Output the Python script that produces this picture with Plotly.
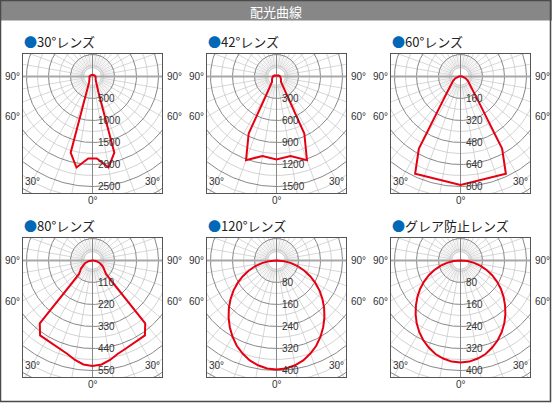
import numpy as np
import plotly.graph_objects as go

W, H = 552, 403

# Chart titles and the radial label step (cd) of each diagram
lens_names = ["30°レンズ", "42°レンズ", "60°レンズ", "80°レンズ", "120°レンズ", "グレア防止レンズ"]
scale_steps = [500, 300, 160, 110, 80, 80]

# Half profiles: angle from nadir (deg) and luminous intensity (cd); mirrored for the other side
ang_30 = [0, 3, 10, 16, 20, 25, 30, 45, 60, 75, 90, 120, 150, 180]
cd_30 = [1865, 1865, 2100, 1800, 420, 225, 155, 100, 85, 75, 68, 50, 40, 38]

ang_42 = [0, 10, 20, 26, 30, 35, 40, 60, 90, 120, 150, 180]
cd_42 = [1130, 1100, 1215, 865, 240, 130, 95, 70, 50, 30, 15, 10]

ang_60 = [0, 25, 30, 35, 40, 45, 52, 60, 70, 80, 90, 120, 180]
cd_60 = [788, 781, 605, 245, 154, 112, 83, 62, 42, 25, 12, 4, 0]

ang_80 = [0, 5, 10, 15, 20, 25, 30, 35, 40, 42, 45, 50, 55, 60, 70, 80, 90, 180]
cd_80 = [528, 522, 505, 484, 472, 463, 458, 457, 410, 175, 95, 80, 70, 60, 40, 20, 5, 0]

ang_120 = [0, 5, 10, 15, 20, 25, 30, 35, 40, 45, 50, 55, 60, 65, 70, 75, 80, 85, 90, 180]
cd_120 = [396, 394, 387, 376, 360, 342, 320, 296, 271, 245, 218, 191, 163, 135, 108, 81, 54, 27, 0, 0]

ang_glare = [0, 5, 10, 15, 20, 25, 30, 35, 40, 45, 50, 55, 60, 65, 70, 75, 80, 85, 90, 180]
cd_glare = [371, 369, 362, 352, 337, 320, 300, 278, 254, 229, 204, 179, 153, 127, 101, 76, 50, 25, 0, 0]

profiles = [(ang_30, cd_30), (ang_42, cd_42), (ang_60, cd_60),
            (ang_80, cd_80), (ang_120, cd_120), (ang_glare, cd_glare)]

# Panel geometry (pixels)
lefts = [23, 207, 391]
tops = [54, 238]
BW, BH = 139, 139
CY = 22.5          # pole offset below box top
PX = 22.0          # pixels per radial step

RED = "#e60012"
DARK = "#7a7a7a"
LIGHT = "#c6c6c6"
HUB = "#d6d6d6"
TXT = "#333333"
NUM_FONT = dict(family="Liberation Sans, Arial, sans-serif", size=10, color=TXT)
JP_FONT = "Noto Sans CJK JP, sans-serif"

fig = go.Figure()
annotations = []
layout_axes = {}


def circle_xy(radii):
    t = np.linspace(0, 2 * np.pi, 361)
    xs, ys = [], []
    for r in radii:
        xs += list(r * np.cos(t)) + [None]
        ys += list(r * np.sin(t)) + [None]
    return xs, ys


def spokes_xy(angles_deg, r0, r1):
    xs, ys = [], []
    for a in angles_deg:
        th = np.radians(a)
        xs += [r0 * np.sin(th), r1 * np.sin(th), None]
        ys += [-r0 * np.cos(th), -r1 * np.cos(th), None]
    return xs, ys


for k in range(6):
    row, col = divmod(k, 3)
    n = k + 1
    xa = "x" if n == 1 else f"x{n}"
    ya = "y" if n == 1 else f"y{n}"
    s = scale_steps[k]
    u = s / PX
    left, top = lefts[col], tops[row]
    cx, cy = left + BW / 2, top + CY

    layout_axes["xaxis" if n == 1 else f"xaxis{n}"] = dict(
        domain=[left / W, (left + BW) / W], range=[-BW / 2 * u, BW / 2 * u],
        showgrid=False, zeroline=False, showticklabels=False, ticks="",
        showline=True, mirror=True, linecolor="#555555", linewidth=1,
        anchor=ya, fixedrange=True)
    layout_axes["yaxis" if n == 1 else f"yaxis{n}"] = dict(
        domain=[1 - (top + BH) / H, 1 - top / H], range=[-(BH - CY) * u, CY * u],
        showgrid=False, zeroline=False, showticklabels=False, ticks="",
        showline=True, mirror=True, linecolor="#555555", linewidth=1,
        anchor=xa, fixedrange=True)

    common = dict(xaxis=xa, yaxis=ya, mode="lines", hoverinfo="skip", showlegend=False)

    # fine 5 deg spokes in the hub
    hx, hy = spokes_xy(list(range(5, 360, 10)), s * 0.4, s)
    fig.add_trace(go.Scatter(x=hx, y=hy, line=dict(color=HUB, width=0.5), **common))
    # light rings (half steps + small hub ring)
    lx, ly = circle_xy([s * (i + 0.5) for i in range(7)] + [s * 0.4])
    fig.add_trace(go.Scatter(x=lx, y=ly, line=dict(color=LIGHT, width=0.8), **common))
    # spokes every 10 deg
    sx, sy = spokes_xy([a for a in range(0, 360, 10) if a % 90 != 0], s * 0.4, s * 8)
    fig.add_trace(go.Scatter(x=sx, y=sy, line=dict(color=LIGHT, width=0.7), **common))
    # dark rings at labelled steps
    dx, dy = circle_xy([s * (i + 1) for i in range(7)])
    fig.add_trace(go.Scatter(x=dx, y=dy, line=dict(color=DARK, width=0.9), **common))
    # 90 deg horizontal and 0 deg vertical axes
    fig.add_trace(go.Scatter(x=[-s * 8, s * 8], y=[0, 0], line=dict(color="#a8a8a8", width=1.8), **common))
    fig.add_trace(go.Scatter(x=[0, 0], y=[-s * 8, s * 8], line=dict(color="#888888", width=1), **common))

    # intensity curve, mirrored about the nadir
    ang, cd = profiles[k]
    full_ang = [-a for a in ang[::-1]] + ang[1:]
    full_cd = cd[::-1] + cd[1:]
    th = np.radians(full_ang)
    v = np.array(full_cd, dtype=float)
    fig.add_trace(go.Scatter(x=v * np.sin(th), y=-v * np.cos(th),
                             line=dict(color=RED, width=2), **common))

    # radial value labels
    for i in range(1, 6):
        annotations.append(dict(xref=xa, yref=ya, x=3.5 * u, y=-i * s, text=str(i * s),
                                showarrow=False, xanchor="left", yanchor="middle",
                                font=NUM_FONT))

    # angle labels (paper coordinates)
    def pap(xp, yp, text, xanchor="center", yanchor="middle"):
        annotations.append(dict(xref="paper", yref="paper", x=xp / W, y=1 - yp / H,
                                text=text, showarrow=False, xanchor=xanchor,
                                yanchor=yanchor, font=NUM_FONT))

    pap(left - 1, cy, "90°", "right")
    pap(left + BW + 3, cy, "90°", "left")
    pap(left - 1, cy + 40.5, "60°", "right")
    pap(left + BW + 3, cy + 40.5, "60°", "left")
    pap(left + 9.5, top + BH - 11.5, "30°")
    pap(left + BW - 9.5, top + BH - 11.5, "30°")
    pap(cx, top + BH + 7.5, "0°")

    # chart title with blue bullet
    annotations.append(dict(xref="paper", yref="paper", x=(left - 1) / W, y=1 - (top - 12) / H,
                            text=f"<span style='color:#0068b7'>●</span>{lens_names[k]}",
                            showarrow=False, xanchor="left", yanchor="middle",
                            font=dict(family=JP_FONT, size=13, color="#222222")))

# header bar title
annotations.append(dict(xref="paper", yref="paper", x=276 / W, y=1 - 11 / H, text="配光曲線",
                        showarrow=False, xanchor="center", yanchor="middle",
                        font=dict(family=JP_FONT, size=13, color="#ffffff")))

shapes = [
    dict(type="rect", xref="paper", yref="paper", x0=0, x1=1, y0=1 - 20.5 / H, y1=1,
         fillcolor="#878787", line=dict(width=0), layer="below"),
    dict(type="rect", xref="paper", yref="paper", x0=0.5 / W, x1=550.5 / W,
         y0=1 - 401.5 / H, y1=1 - 0.5 / H, line=dict(color="#4a4a4a", width=1.5),
         fillcolor="rgba(0,0,0,0)"),
]

fig.update_layout(width=W, height=H, margin=dict(l=0, r=0, t=0, b=0),
                  paper_bgcolor="white", plot_bgcolor="white",
                  annotations=annotations, shapes=shapes, **layout_axes)

fig.write_html("out.html", config={"displayModeBar": False})
